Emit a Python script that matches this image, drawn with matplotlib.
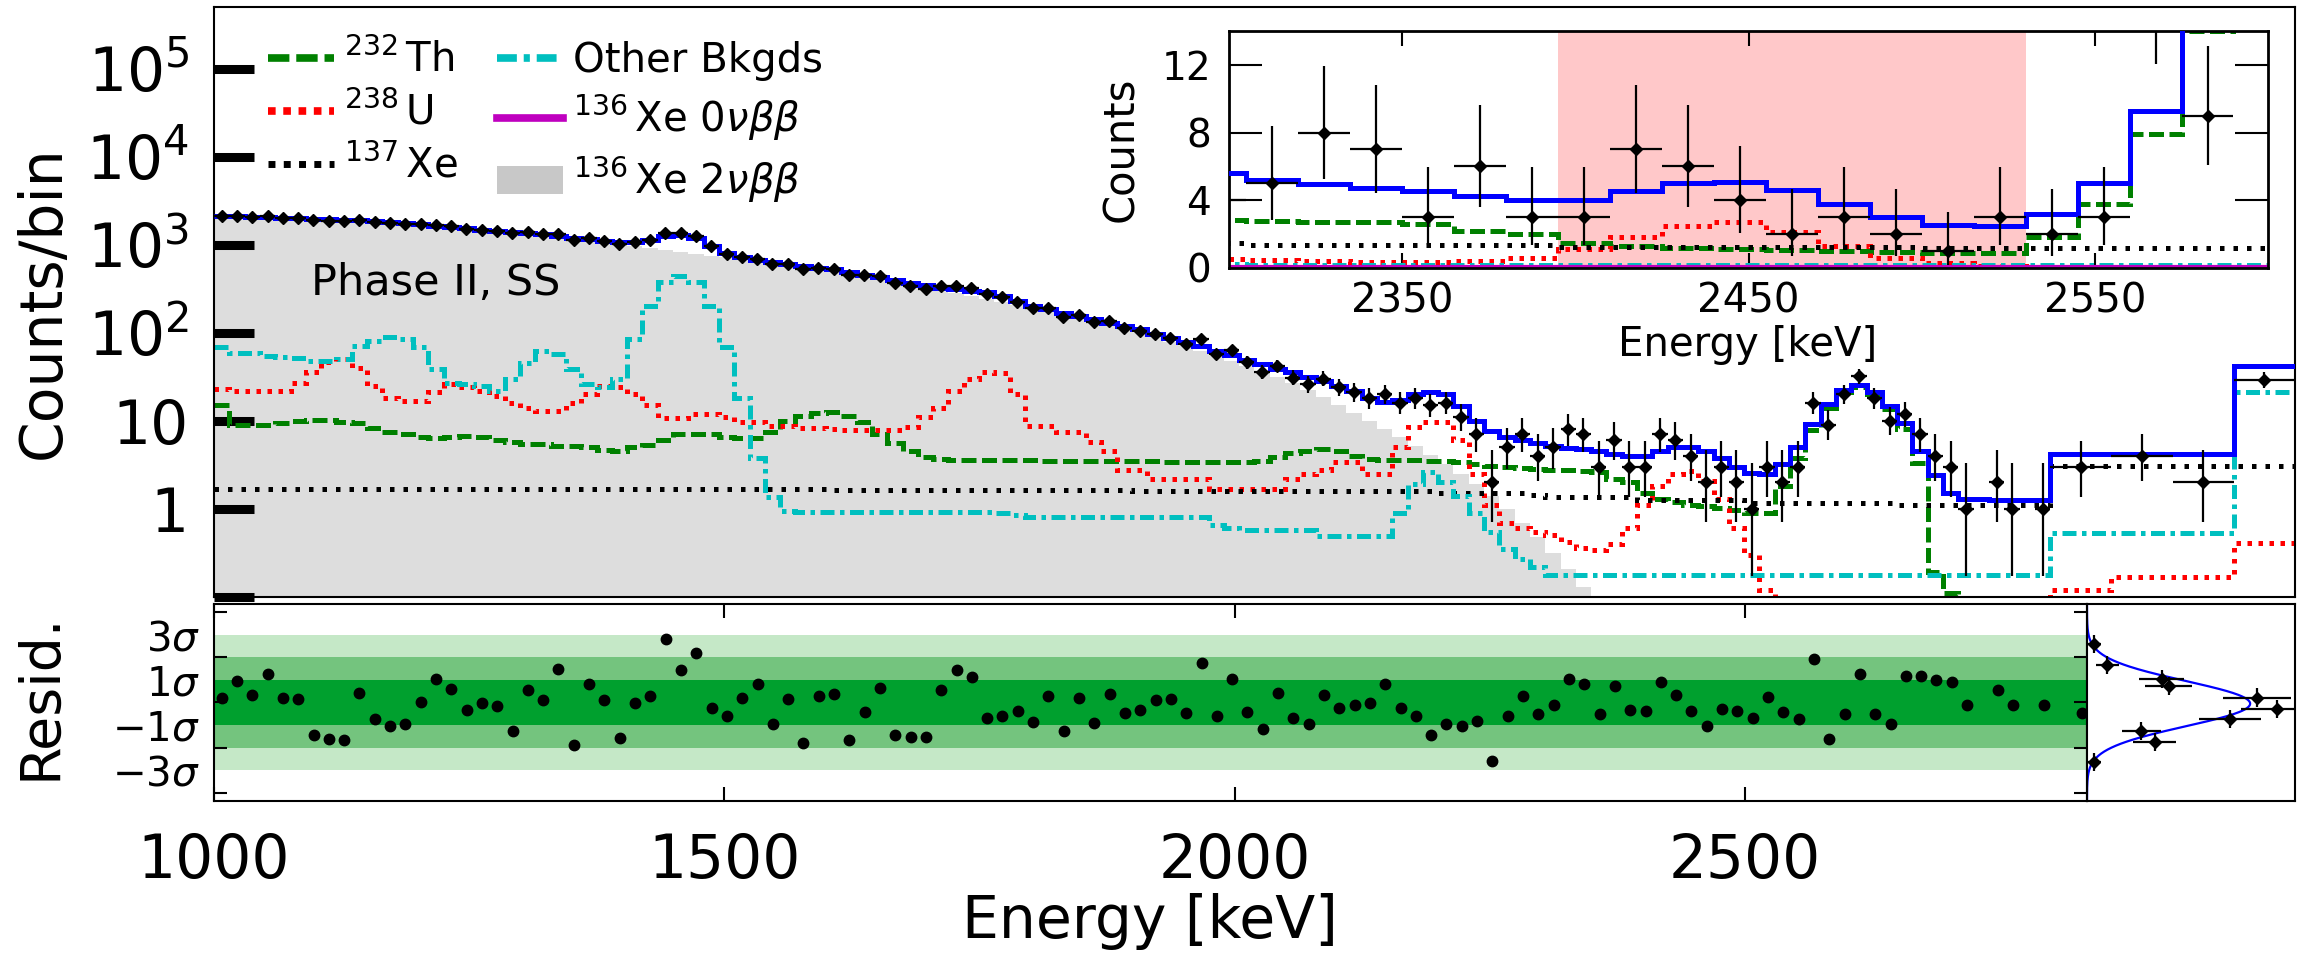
import numpy as np
import matplotlib
matplotlib.use('Agg')
from matplotlib import pyplot as plt
from matplotlib.lines import Line2D
from matplotlib.patches import Patch

# 15 keV bins from 1000 to 2800 keV, then four wide bins
edges = np.concatenate([np.arange(1000, 2801, 15), [2860, 2920, 2980, 3040]])

counts = [2139, 2135, 2086, 2099, 2025, 2001, 1907, 1878, 1850, 1913,
          1821, 1770, 1728, 1709, 1682, 1611, 1525, 1486, 1428, 1343,
          1376, 1328, 1324, 1142, 1178, 1111, 1016, 1065, 1145, 1367,
          1343, 1266, 969, 788, 722, 689, 608, 603, 524, 548,
          532, 454, 448, 439, 368, 341, 318, 336, 338, 321,
          276, 255, 225, 190, 189, 153, 159, 132, 135, 114,
          105, 98, 88, 74, 85, 57, 63, 46, 36, 42,
          31, 26, 30, 24, 21, 18, 20, 16, 18, 15,
          16, 11, 7, 2, 5, 7, 4, 5, 8, 7,
          3, 6, 3, 3, 7, 6, 4, 2, 3, 2,
          1, 3, 2, 3, 16, 9, 20, 32, 18, 10,
          12, 7, 4, 3, 1, 0, 2, 1, 0, 1,
          3, 4, 2, 29]

total_fit = [2129, 2092, 2070, 2043, 2016, 1994, 1970, 1949, 1922, 1896,
             1853, 1815, 1769, 1709, 1639, 1587, 1538, 1488, 1434, 1390,
             1355, 1323, 1271, 1207, 1151, 1107, 1067, 1066, 1136, 1267,
             1292, 1191, 977, 804, 716, 668, 631, 599, 567, 541,
             523, 490, 457, 426, 396, 370, 346, 326, 313, 301,
             287, 265, 231, 202, 185, 169.5, 156.5, 143, 130.5, 119,
             109, 97, 87, 78, 70, 62, 55.5, 49.4, 43.9, 39.3,
             35.6, 31.7, 28.2, 25.2, 21.9, 18.3, 16.3, 17.3, 20.2, 21.5,
             20.1, 14.8, 10.0, 7.7, 6.6, 6.0, 5.6, 5.2, 4.95, 4.75,
             4.56, 4.25, 4.0, 4.03, 4.53, 5.0, 5.1, 4.6, 3.76, 2.99,
             2.55, 2.5, 3.2, 5.0, 9.3, 15.4, 22.4, 25.4, 21.4, 14.9,
             9.4, 4.6, 2.4, 1.5, 1.3, 1.28, 1.27, 1.26, 1.25, 1.25,
             4.2, 4.2, 4.2, 42]

th232 = [15, 8.9, 8.9, 9.0, 9.5, 10.0, 10.2, 10.2, 9.8, 9.5,
         8.3, 7.5, 7.0, 6.5, 6.4, 6.5, 6.7, 6.6, 6.1, 5.7,
         5.5, 5.4, 5.2, 5.2, 5.0, 4.7, 4.6, 5.0, 5.3, 6.1,
         7.0, 7.1, 7.1, 6.6, 6.4, 6.4, 7.5, 10.0, 11.5, 12.2,
         12.5, 11.5, 9.7, 7.1, 5.6, 4.6, 3.9, 3.7, 3.6, 3.6,
         3.6, 3.6, 3.6, 3.6, 3.5, 3.5, 3.5, 3.5, 3.5, 3.5,
         3.5, 3.5, 3.45, 3.45, 3.45, 3.45, 3.45, 3.45, 3.5, 3.9,
         4.3, 4.6, 4.8, 4.6, 4.0, 3.7, 3.6, 3.6, 3.6, 3.5,
         3.5, 3.4, 3.2, 3.1, 3.0, 2.95, 2.85, 2.76, 2.74, 2.72,
         2.6, 2.2, 2.0, 1.5, 1.3, 1.2, 1.1, 1.07, 1.03, 0.96,
         0.9, 0.9, 1.8, 3.8, 7.9, 14, 21, 24, 20, 13.5,
         8.0, 3.3, 0.19, 0.11, 0.02, 0.02, 0.02, 0.02, 0.02, 0.02,
         0.02, 0.02, 0.02, 0.02]

u238 = [23, 22, 22, 22, 22, 27, 36, 46, 50, 40,
        25, 18, 17, 17, 21, 26, 24, 22, 19, 16,
        14, 13, 13, 16, 20, 24.6, 24, 20, 15, 10.7,
        10.7, 11.9, 11.9, 11, 9.7, 9.7, 8.8, 8.8, 8.3, 8.3,
        8.0, 7.9, 7.9, 7.9, 7.9, 8.5, 11, 14, 22, 30,
        36, 35, 20, 8.8, 8.8, 7.5, 7.5, 5.8, 4.5, 2.8,
        2.8, 2.2, 2.2, 2.2, 2.2, 1.67, 1.67, 1.67, 1.67, 1.67,
        2.2, 2.5, 2.8, 3.45, 3.45, 2.5, 2.5, 5.0, 8.5, 9.7,
        9.7, 6.0, 2.5, 1.1, 0.7, 0.6, 0.55, 0.5, 0.42, 0.36,
        0.34, 0.4, 0.6, 1.1, 1.8, 2.5, 2.7, 2.1, 1.3, 0.6,
        0.3, 0.12, 0.05, 0.05, 0.05, 0.05, 0.05, 0.05, 0.05, 0.05,
        0.05, 0.05, 0.05, 0.05, 0.05, 0.05, 0.05, 0.05, 0.05, 0.05,
        0.12, 0.17, 0.17, 0.41]

xe137 = ([1.70] * 40 + [1.66] * 20 + [1.60] * 20 + [1.52] * 6 + [1.45] +
         [1.38] * 6 + [1.25] * 7 + [1.17] * 10 + [1.12] * 10 + [3.1] * 4)

other_bkg = ([69, 59, 59, 55, 53, 52, 48, 48, 50, 70,
              80, 89, 85, 69, 39, 27, 26, 25, 22, 30,
              45, 62, 58, 39, 26, 24, 30, 84, 204, 380,
              445, 380, 204, 69, 18, 3.8, 1.36, 0.95, 0.92, 0.92] +
             [0.92] * 10 + [0.92, 0.9, 0.85] + [0.81] * 12 + [0.65, 0.6] +
             [0.57] * 5 + [0.49] * 5 + [0.9, 1.9, 2.6,
              2.0, 1.4, 0.9, 0.55, 0.35, 0.27, 0.22, 0.18, 0.18, 0.18] +
             [0.18] * 30 + [0.53, 0.53, 0.53, 21])

bb2n = [2020, 2000, 1978, 1955, 1930, 1903, 1874, 1843, 1810, 1775,
        1738, 1699, 1658, 1615, 1571, 1526, 1480, 1433, 1385, 1337,
        1289, 1241, 1193, 1145, 1098, 1052, 1007, 955, 910, 868,
        828, 790, 752, 716, 680, 646, 612, 578, 545, 518,
        500, 468, 437, 408, 380, 354, 329, 306, 285, 265,
        245, 224, 205, 187, 170, 156, 143, 131, 120, 110,
        100, 89, 79, 70, 62, 54.5, 48, 42, 36.5, 31.5,
        27, 22.5, 18.5, 15, 12.3, 10, 8.1, 6.5, 5.2, 4.1,
        3.2, 2.5, 1.9, 1.4, 1.0, 0.7, 0.48, 0.32, 0.21, 0.13,
        0.08] + [0] * 33

bb0n = [0.03] * 124

# residuals (sigma) for every bin with counts
resid = [0.21, 0.94, 0.35, 1.24, 0.21, 0.16, -1.42, -1.61, -1.64, 0.40,
         -0.75, -1.05, -0.97, 0.01, 1.05, 0.60, -0.34, -0.04, -0.16, -1.27,
         0.57, 0.13, 1.49, -1.86, 0.80, 0.13, -1.56, -0.03, 0.28, 2.82,
         1.43, 2.17, -0.24, -0.58, 0.21, 0.83, -0.93, 0.16, -1.81, 0.28,
         0.38, -1.64, -0.43, 0.65, -1.42, -1.53, -1.53, 0.57, 1.43, 1.14,
         -0.68, -0.60, -0.38, -0.87, 0.28, -1.27, 0.21, -0.90, 0.38, -0.46,
         -0.34, 0.10, 0.16, -0.46, 1.76, -0.60, 1.02, -0.43, -1.19, 0.40,
         -0.68, -0.93, 0.31, -0.24, -0.13, -0.04, 0.80, -0.24, -0.58, -1.42,
         -0.93, -1.05, -0.83, -2.60, -0.60, 0.28, -0.53, -0.13, 1.02, 0.80,
         -0.50, 0.72, -0.34, -0.38, 0.90, 0.31, -0.38, -1.02, -0.28, -0.38,
         -0.68, 0.25, -0.43, -0.72, 1.93, -1.61, -0.49, 1.24, -0.49, -0.93,
         1.19, 1.19, 0.99, 0.90, -0.13, 0.57, -0.11, -0.11, -0.46]

# projection of the residuals
hist_sigma = [2.57, 1.68, 1.06, 0.71, 0.22, -0.27, -0.75, -1.28, -1.73, -2.65]
hist_n = [1, 3, 11, 12, 25, 28, 21, 8, 10, 1]
gauss_amp, gauss_mu, gauss_sig = 24.0, -0.05, 1.0

roi = (2395, 2530)


def poisson_err(n):
    n = np.asarray(n, float)
    m = np.maximum(n, 1)
    hi = 1 + np.sqrt(n + 0.75)
    lo = np.where(n > 0, n - n * (1 - 1 / (9 * m) - 1 / (3 * np.sqrt(m))) ** 3, 0)
    return lo, hi


counts = np.array(counts, float)
centers = 0.5 * (edges[:-1] + edges[1:])
halfw = 0.5 * np.diff(edges)
has = counts > 0
lo, hi = poisson_err(counts)

lw_c = 3.6
ls_th = (0, (3.0, 1.1))
ls_u = (0, (0.9, 1.3))
ls_xe = (0, (0.9, 1.8))
ls_ot = (0, (2.8, 1.1, 0.9, 1.1))

fig = plt.figure(figsize=(23.05, 9.55), dpi=100)
ax = fig.add_axes([0.09284, 0.37487, 0.90282, 0.61780])
axr = fig.add_axes([0.09284, 0.16126, 0.81258, 0.20628])
axs = fig.add_axes([0.90542, 0.16126, 0.09024, 0.20628])
axi = fig.add_axes([0.5332, 0.7194, 0.4508, 0.2482])

# ---------- main spectrum ----------
clip = lambda a: np.clip(np.asarray(a, float), 1e-3, None)
ax.stairs(clip(bb2n), edges, fill=True, color='#dddddd', baseline=1e-3, zorder=1)
ax.stairs(clip(th232), edges, baseline=None, color='green', ls=ls_th, lw=lw_c, zorder=2)
ax.stairs(clip(u238), edges, baseline=None, color='red', ls=ls_u, lw=lw_c, zorder=2)
ax.stairs(clip(xe137), edges, baseline=None, color='black', ls=ls_xe, lw=lw_c, zorder=2)
ax.stairs(clip(other_bkg), edges, baseline=None, color='c', ls=ls_ot, lw=lw_c, zorder=2)
ax.stairs(total_fit, edges, baseline=None, color='blue', lw=3.6, zorder=3)
ax.errorbar(centers[has], counts[has], xerr=halfw[has], yerr=[lo[has], hi[has]],
            fmt='D', color='black', ms=6.5, elinewidth=1.6, capsize=0, zorder=4)
ax.set_yscale('log')
ax.set_xlim(1000, 3040)
ax.set_ylim(0.1, 5e5)
ax.set_xticks([])
ax.set_yticks([0.1, 1, 10, 100, 1e3, 1e4, 1e5])
ax.set_yticklabels(['', '1', '10', r'$10^2$', r'$10^3$', r'$10^4$', r'$10^5$'])
ax.tick_params(axis='y', which='major', direction='in', length=29, width=6.5,
               labelsize=43, pad=18)
ax.tick_params(axis='y', which='minor', direction='in', length=16, width=1.5)
for s in ax.spines.values():
    s.set_linewidth(1.5)
ax.text(0.0466, 0.532, 'Phase II, SS', transform=ax.transAxes, fontsize=31,
        va='center', ha='left', zorder=5)

handles = [Line2D([], [], color='green', ls=(0, (2.8, 0.9)), lw=5.5),
           Line2D([], [], color='red', ls=(0, (1.0, 1.0)), lw=5.5),
           Line2D([], [], color='black', ls=(0, (1.0, 1.2)), lw=5),
           Line2D([], [], color='c', ls=(0, (2.6, 0.9, 0.8, 0.9)), lw=5.5),
           Line2D([], [], color='m', lw=5.5),
           Patch(facecolor='#c8c8c8', edgecolor='none')]
labels = [r'$^{232}\,$Th', r'$^{238}\,$U', r'$^{137}\,$Xe', 'Other Bkgds',
          r'$^{136}\,$Xe 0$\nu\beta\beta$', r'$^{136}\,$Xe 2$\nu\beta\beta$']
ax.legend(handles, labels, ncol=2, loc='upper left', bbox_to_anchor=(0.0259, 0.944),
          frameon=False, fontsize=29, handlelength=1.65, handletextpad=0.25,
          columnspacing=0.95, labelspacing=0.29, borderaxespad=0, borderpad=0)

# ---------- inset around the ROI ----------
axi.axvspan(roi[0], roi[1], color='#ffc8c9', lw=0, zorder=0)
axi.stairs(th232, edges, baseline=None, color='green', ls=ls_th, lw=lw_c, zorder=2)
axi.stairs(u238, edges, baseline=None, color='red', ls=ls_u, lw=lw_c, zorder=2)
axi.stairs(xe137, edges, baseline=None, color='black', ls=ls_xe, lw=lw_c, zorder=2)
axi.stairs(other_bkg, edges, baseline=None, color='c', ls=ls_ot, lw=lw_c, zorder=2)
axi.stairs(bb0n, edges, baseline=None, color='m', lw=3, zorder=2)
axi.stairs(total_fit, edges, baseline=None, color='blue', lw=3.6, zorder=3)
axi.errorbar(centers[has], counts[has], xerr=halfw[has], yerr=[lo[has], hi[has]],
             fmt='D', color='black', ms=6.5, elinewidth=1.6, capsize=0, zorder=4)
axi.set_xlim(2300, 2600)
axi.set_ylim(0, 14)
axi.set_xticks([2350, 2450, 2550])
axi.set_yticks([0, 4, 8, 12])
axi.tick_params(axis='y', direction='in', length=24, width=1.5, labelsize=28, pad=13,
                left=True, right=True)
axi.tick_params(axis='x', direction='in', length=11, width=1.5, labelsize=29, pad=10,
                top=True, bottom=True)
for s in axi.spines.values():
    s.set_linewidth(2)
fig.text(1121 / 2305, 1 - 149 / 955, 'Counts', rotation=90, ha='center', va='center', fontsize=30)
fig.text(1748 / 2305, 1 - 345 / 955, 'Energy [keV]', ha='center', va='center', fontsize=29)

# ---------- residuals ----------
axr.axhspan(-3, 3, color='#c5e8c7', lw=0)
axr.axhspan(-2, 2, color='#74c47e', lw=0)
axr.axhspan(-1, 1, color='#00a02e', lw=0)
axr.plot(centers[has][:len(resid)], resid, 'o', color='black', ms=7.5)
axr.set_xlim(1000, 2835)
axr.set_ylim(-4.36, 4.36)
axr.set_xticks([1000, 1500, 2000, 2500])
axr.tick_params(axis='x', direction='in', length=10, width=1.5, labelsize=43, pad=22,
                top=True, bottom=True)
axr.set_yticks([-3, -1, 1, 3])
axr.set_yticklabels([r'$-3\sigma$', r'$-1\sigma$', r'$1\sigma$', r'$3\sigma$'])
axr.set_yticks([-4, -2, 0, 2, 4], minor=True)
axr.tick_params(axis='y', which='major', length=0, labelsize=29, pad=10)
axr.tick_params(axis='y', which='minor', direction='in', length=9.5, width=1.5,
                left=True, right=True)
for s in axr.spines.values():
    s.set_linewidth(1.5)

yy = np.linspace(-4.36, 4.36, 300)
axs.plot(gauss_amp * np.exp(-0.5 * ((yy - gauss_mu) / gauss_sig) ** 2), yy, color='blue', lw=1.6)
axs.errorbar(hist_n, hist_sigma, xerr=np.sqrt(hist_n), yerr=0.4, fmt='D', color='black',
             ms=6, elinewidth=1.6, capsize=0)
axs.set_xlim(0, 30.6)
axs.set_ylim(-4.36, 4.36)
axs.set_xticks([])
axs.set_yticks([])
for s in axs.spines.values():
    s.set_linewidth(1.5)

fig.text(43 / 2305, 1 - 302 / 955, 'Counts/bin', rotation=90, ha='center', va='center', fontsize=42)
fig.text(40 / 2305, 1 - 696 / 955, 'Resid.', rotation=90, ha='center', va='center', fontsize=40)
fig.text(1150 / 2305, 1 - 921 / 955, 'Energy [keV]', ha='center', va='center', fontsize=42)

fig.savefig('out.png', dpi=100)
